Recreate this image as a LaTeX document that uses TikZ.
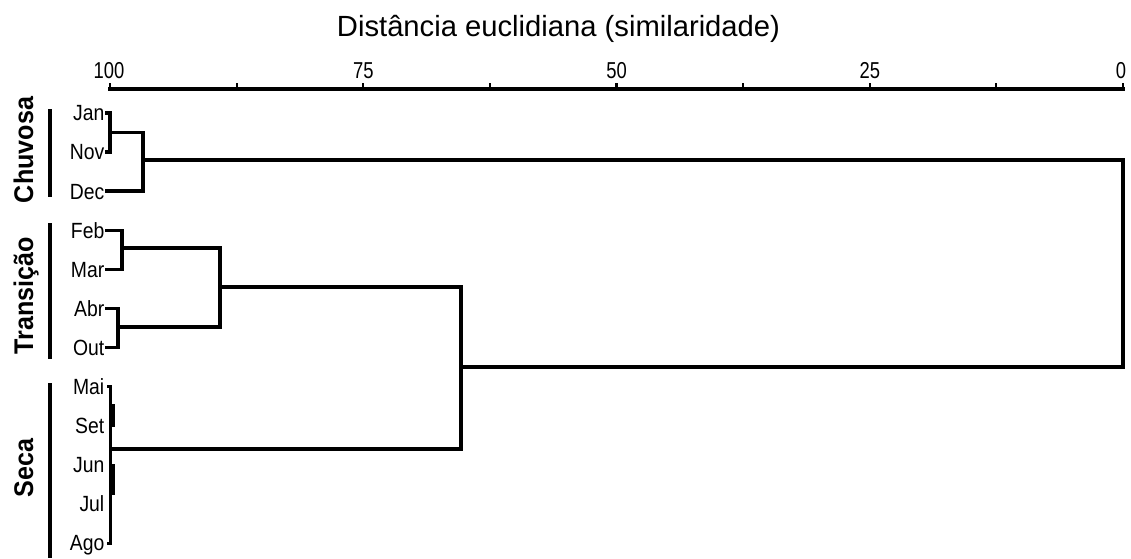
\documentclass[tikz,border=0pt]{standalone}
\usepackage{fontspec}
\setmainfont{Liberation Sans}
\newfontfamily\monthfont[FakeStretch=0.88]{Liberation Sans}
\newfontfamily\tickfont[FakeStretch=0.8]{Liberation Sans}
\newfontfamily\groupfont[FakeStretch=0.93]{Liberation Sans}
\begin{document}
\begin{tikzpicture}[x=1pt,y=-1pt,
  dline/.style={line width=3.5pt,line cap=rect,line join=miter},
  month/.style={anchor=base east,inner sep=0pt,font=\monthfont\fontsize{22}{23}\selectfont},
  ticklab/.style={anchor=base,inner sep=0pt,font=\tickfont\fontsize{23}{24}\selectfont},
  grouplab/.style={anchor=base,rotate=90,inner sep=0pt,font=\groupfont\fontsize{27}{28}\selectfont\bfseries},
  groupbar/.style={line width=3.5pt},
  axisline/.style={line width=3.5pt}]
\useasboundingbox (0,0) rectangle (1131,558);
% title
\node[anchor=base,inner sep=0pt,font=\fontsize{29.2}{30}\selectfont] (title) at (558.5,36) {Distância euclidiana (similaridade)};
% axis
\coordinate (a0) at (110,89);
\coordinate (a1) at (1123,89);
\draw[axisline,line cap=rect] (a0) -- (a1);
\foreach \k in {0,...,8}{
  \draw[line width=2.2pt] ({110+126.625*\k},89) -- ({110+126.625*\k},83);
}
\node[ticklab] (t100) at (109,78.5) {100};
\node[ticklab] (t75) at (363.25,78.5) {75};
\node[ticklab] (t50) at (616.5,78.5) {50};
\node[ticklab] (t25) at (869.75,78.5) {25};
\node[ticklab] (t0) at (1121,78.5) {0};
% month labels
\foreach \m/\i in {Jan/0,Nov/1,Dec/2,Feb/3,Mar/4,Abr/5,Out/6,Mai/7,Set/8,Jun/9,Jul/10,Ago/11}{
  \node[month] (n\m) at (104.5,{113+39.1*\i+7.8}) {\m};
  \coordinate (l\m) at (107,{113+39.1*\i});
}
% internal merge points
\coordinate (mJN) at (110,132.5);
\coordinate (mC1) at (143,160);
\coordinate (mFM) at (122,248);
\coordinate (mAO) at (118,327);
\coordinate (mT) at (220,287);
\coordinate (mS) at (112,449);
\coordinate (mTS) at (461,367);
\coordinate (mR) at (1123,263);
% Chuvosa
\draw[dline] (lJan) -| (mJN) |- (lNov);
\draw[dline] (mJN) -| (mC1) |- (lDec);
% Transicao
\draw[dline] (lFeb) -| (mFM) |- (lMar);
\draw[dline] (lAbr) -| (mAO) |- (lOut);
\draw[dline] (mFM) -| (mT) |- (mAO);
% Seca
\draw[line width=3pt] (lMai) -- ++(3,0) coordinate (sTop) -- (sTop |- lAgo) -- (lAgo);
\draw[line width=5pt] (112,404) -- (112,427);
\draw[line width=5pt] (112,464) -- (112,495);
% upper links
\draw[dline] (mT) -| (mTS) |- (mS);
\draw[dline] (mC1) -| (mR) |- (mTS);
% group bars
\draw[groupbar] (50,109) -- (50,197);
\draw[groupbar] (50,223) -- (50,359);
\draw[groupbar] (50,383) -- (50,558);
\node[grouplab] (gC) at (33,150) {Chuvosa};
\node[grouplab] (gT) at (33,296) {Transição};
\node[grouplab] (gS) at (33,468) {Seca};
\end{tikzpicture}
\end{document}
